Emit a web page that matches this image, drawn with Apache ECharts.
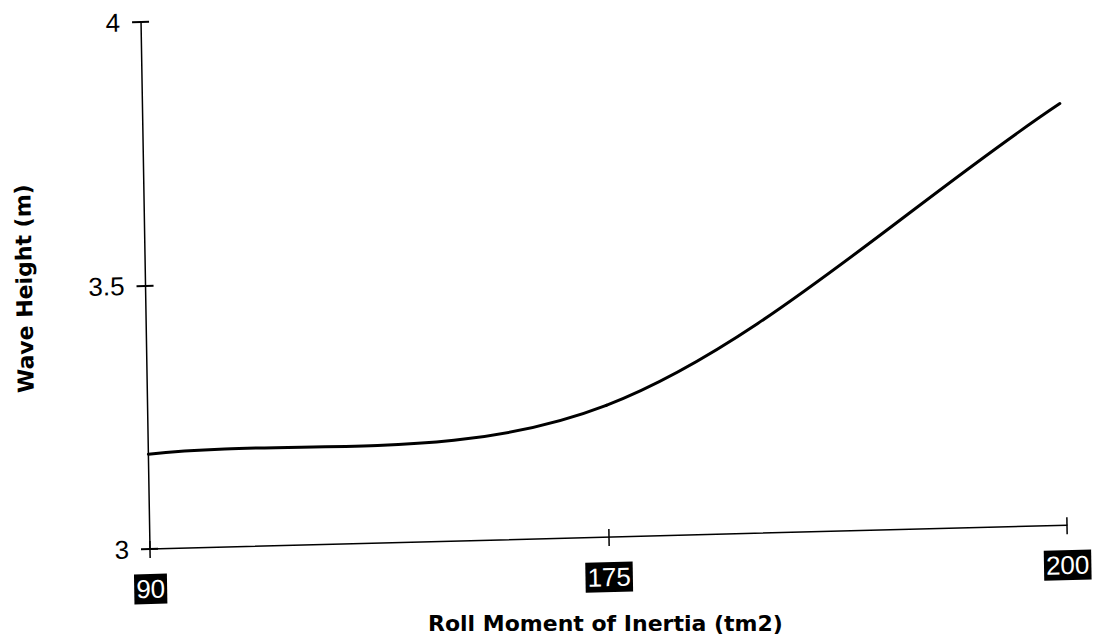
<!DOCTYPE html>
<html>
<head>
<meta charset="utf-8">
<title>Wave Height vs Roll Moment of Inertia</title>
<script src="https://cdn.jsdelivr.net/npm/echarts@6/dist/echarts.min.js"></script>
<style>
  html, body { margin: 0; padding: 0; background: #fff; overflow: hidden; width: 1094px; height: 639px; }
  /* the plot sits slightly skewed, pivoting on the axis origin */
  #chart {
    position: absolute; left: 0; top: 0;
    width: 1094px; height: 660px;
    transform-origin: 150px 549px;
    transform: matrix(1, -0.026, 0.017, 1, 0, 0);
  }
  /* the horizontal axis title stays level below the plot */
  #caption {
    position: absolute; left: 0; top: 0;
    width: 1094px; height: 639px;
    pointer-events: none;
  }
</style>
</head>
<body>
<div id="chart"></div>
<div id="caption"></div>
<script>
// Roll moment of inertia (tm2) categories and the resulting wave height (m)
const inertiaLabels = ['90', '175', '200'];
const waveHeight = [3.18, 3.25, 3.80];
const heightTicks = [3, 3.5, 4];
const xTitle = 'Roll Moment of Inertia (tm2)';
const yTitle = 'Wave Height (m)';

const black = '#000';
const labelFont = "'Liberation Sans', Arial, sans-serif";
const titleFont = "'DejaVu Sans', sans-serif";

const chart = echarts.init(document.getElementById('chart'), null, { renderer: 'svg' });
const caption = echarts.init(document.getElementById('caption'), null, { renderer: 'svg' });

// Smooth curve through the data points (Catmull-Rom tangents, chord tangents at the ends)
function renderCurve(params, api) {
  if (params.dataIndex !== waveHeight.length - 1) return null;
  const pts = waveHeight.map((v, i) => api.coord([i, v]));
  const n = pts.length;
  const tan = pts.map((p, i) => {
    const a = pts[Math.max(i - 1, 0)];
    const b = pts[Math.min(i + 1, n - 1)];
    const k = (i === 0 || i === n - 1) ? 1 : 0.5;
    return [(b[0] - a[0]) * k, (b[1] - a[1]) * k];
  });
  const children = [];
  for (let i = 0; i < n - 1; i++) {
    children.push({
      type: 'bezierCurve',
      shape: {
        x1: pts[i][0], y1: pts[i][1],
        cpx1: pts[i][0] + tan[i][0] / 3, cpy1: pts[i][1] + tan[i][1] / 3,
        cpx2: pts[i + 1][0] - tan[i + 1][0] / 3, cpy2: pts[i + 1][1] - tan[i + 1][1] / 3,
        x2: pts[i + 1][0], y2: pts[i + 1][1]
      },
      style: { stroke: black, lineWidth: 3, fill: 'none', lineCap: 'round' }
    });
  }
  return { type: 'group', children };
}

const option = {
  backgroundColor: 'transparent',
  animation: false,
  grid: { left: 150, right: 27, top: 22, bottom: 660 - 549, containLabel: false },
  xAxis: [
    {
      type: 'category',
      data: inertiaLabels,
      boundaryGap: false,
      position: 'bottom',
      axisLine: { show: true, lineStyle: { color: black, width: 1.5 } },
      axisTick: { show: true, inside: false, length: 9, lineStyle: { color: black, width: 1.5 } },
      axisLabel: {
        margin: 25,
        color: '#fff',
        backgroundColor: black,
        padding: [2, 2, 2, 2],
        fontSize: 26,
        fontFamily: labelFont
      },
      splitLine: { show: false }
    },
    {
      type: 'category',
      data: inertiaLabels,
      boundaryGap: false,
      position: 'bottom',
      axisLine: { show: false },
      axisTick: { show: true, inside: true, length: 8, lineStyle: { color: black, width: 1.5 } },
      axisLabel: { show: false },
      splitLine: { show: false }
    }
  ],
  yAxis: [
    {
      type: 'value',
      min: heightTicks[0],
      max: heightTicks[heightTicks.length - 1],
      interval: heightTicks[1] - heightTicks[0],
      axisLine: { show: true, lineStyle: { color: black, width: 1.5 } },
      axisTick: { show: true, inside: false, length: 9, lineStyle: { color: black, width: 2 } },
      axisLabel: { margin: 21, color: black, fontSize: 26, fontFamily: labelFont },
      splitLine: { show: false },
      name: yTitle,
      nameLocation: 'middle',
      nameRotate: 90,
      nameGap: 110,
      nameTextStyle: { color: black, fontSize: 22, fontWeight: 'bold', fontFamily: titleFont }
    },
    {
      type: 'value',
      min: heightTicks[0],
      max: heightTicks[heightTicks.length - 1],
      interval: heightTicks[1] - heightTicks[0],
      position: 'left',
      axisLine: { show: false },
      axisTick: { show: true, inside: true, length: 8, lineStyle: { color: black, width: 2 } },
      axisLabel: { show: false },
      splitLine: { show: false }
    }
  ],
  series: [
    {
      name: 'Wave Height',
      type: 'custom',
      xAxisIndex: 0,
      yAxisIndex: 0,
      renderItem: renderCurve,
      data: waveHeight.map((v, i) => [i, v]),
      encode: { x: 0, y: 1 },
      silent: true,
      z: 3
    }
  ]
};

chart.setOption(option);

// Horizontal axis title, kept level under the plot
caption.setOption({
  animation: false,
  graphic: [
    {
      type: 'text',
      left: 428,
      top: 612,
      style: {
        text: xTitle,
        fill: black,
        font: "bold 22px 'DejaVu Sans', sans-serif"
      },
      silent: true
    }
  ]
});
</script>
</body>
</html>
